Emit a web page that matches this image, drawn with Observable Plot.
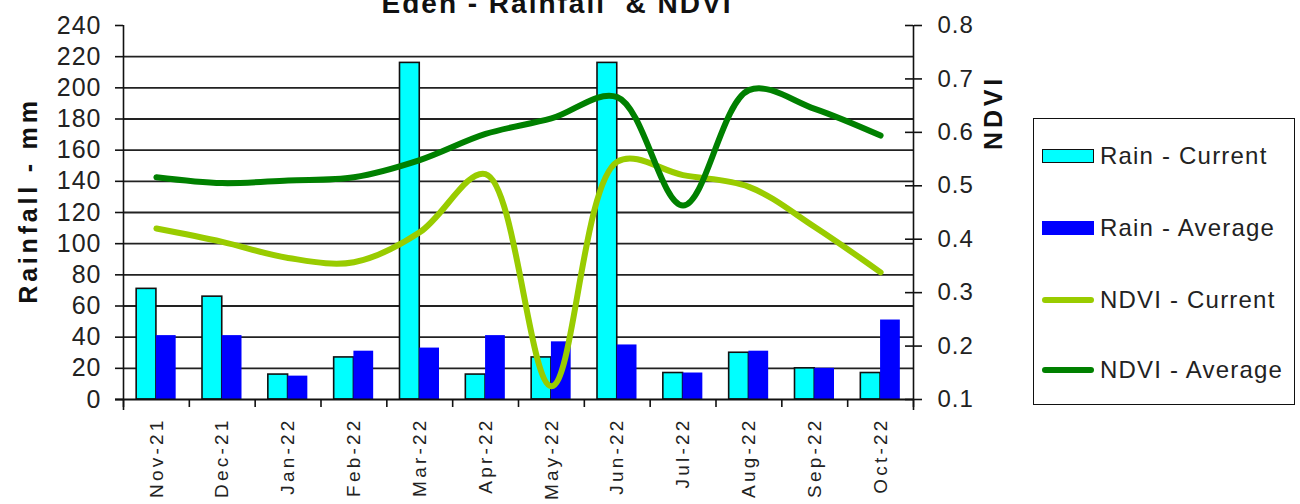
<!DOCTYPE html>
<html>
<head>
<meta charset="utf-8">
<script src="https://cdn.jsdelivr.net/npm/d3@7"></script>
<script src="https://cdn.jsdelivr.net/npm/@observablehq/plot@0.6"></script>
<style>
  body { margin: 0; background: white; font-family: "Liberation Sans", Arial, sans-serif; }
  #wrap { position: relative; width: 1300px; height: 504px; overflow: hidden; }
  #title { position: absolute; left: 0; top: -10px; width: 1114px; text-align: center;
           font-size: 28px; line-height: 28px; font-weight: bold; letter-spacing: 2px; color: #111; }
  #legend { position: absolute; left: 1033px; top: 118px; width: 260px; height: 285px;
            border: 1.5px solid #111; background: white; }
  .item { position: absolute; left: 0; height: 24px; width: 260px; }
  .item span { position: absolute; left: 66px; top: 0; font-size: 24px; line-height: 24px;
               letter-spacing: 1.2px; color: #222; white-space: nowrap; }
  .sw { position: absolute; left: 8px; }
  svg g[aria-label="y-axis tick label"] text { letter-spacing: 1px; }
  svg g[aria-label="x-axis tick label"] text { letter-spacing: 3.2px; }
  svg g[aria-label="text"] text { letter-spacing: 3.8px; }
</style>
</head>
<body>
<div id="wrap">
  <div id="title">Eden - Rainfall&nbsp; &amp; NDVI</div>
  <div id="chart"></div>
  <div id="legend"></div>
</div>
<script>
const months = ["Nov-21","Dec-21","Jan-22","Feb-22","Mar-22","Apr-22","May-22","Jun-22","Jul-22","Aug-22","Sep-22","Oct-22"];
const rainCurrent = [71, 66, 16, 27, 216, 16, 27, 216, 17, 30, 20, 17];
const rainAverage = [41, 41, 15, 31, 33, 41, 37, 35, 17, 31, 20, 51];
const ndviCurrent = [0.42, 0.395, 0.365, 0.357, 0.413, 0.522, 0.125, 0.545, 0.52, 0.498, 0.423, 0.338];
const ndviAverage = [0.516, 0.505, 0.51, 0.516, 0.548, 0.597, 0.626, 0.666, 0.463, 0.679, 0.644, 0.594];
const rainTicks = [0, 20, 40, 60, 80, 100, 120, 140, 160, 180, 200, 220, 240];
const ndviTicks = [0.1, 0.2, 0.3, 0.4, 0.5, 0.6, 0.7, 0.8];
const seriesNames = ["Rain - Current", "Rain - Average", "NDVI - Current", "NDVI - Average"];
const colors = ["#00FFFF", "#0000FF", "#99CC00", "#008000"];

// map NDVI onto the rainfall scale (0.1..0.8 -> 0..240)
const toRain = v => (v - 0.1) / 0.7 * 240;
const fromRain = r => 0.1 + r / 240 * 0.7;

const rows = months.map((m, i) => ({
  i, month: m, rc: rainCurrent[i], ra: rainAverage[i], nc: ndviCurrent[i], na: ndviAverage[i]
}));
const bounds = d3.range(months.length + 1).map(k => k - 0.5);
const last = months.length - 0.5;

const chart = Plot.plot({
  width: 1300,
  height: 504,
  marginLeft: 123,
  marginRight: 387,
  marginTop: 25,
  marginBottom: 105,
  style: { fontFamily: "'Liberation Sans', Arial, sans-serif", background: "white", color: "#222" },
  x: { type: "linear", domain: [-0.5, last], axis: null },
  y: { domain: [0, 240], axis: null },
  marks: [
    Plot.ruleY(rainTicks.filter(t => t > 0 && t < 240), { x1: -0.5, x2: last, stroke: "#222", strokeWidth: 1.8 }),
    Plot.rectY(rows, { x1: d => d.i - 0.3, x2: d => d.i, y: "rc", fill: colors[0], stroke: "#111", strokeWidth: 1.6 }),
    Plot.rectY(rows, { x1: d => d.i, x2: d => d.i + 0.3, y: "ra", fill: colors[1] }),
    Plot.line(rows, { x: "i", y: d => toRain(d.nc), curve: "catmull-rom", stroke: colors[2], strokeWidth: 6, strokeLinecap: "round", strokeLinejoin: "round" }),
    Plot.line(rows, { x: "i", y: d => toRain(d.na), curve: "catmull-rom", stroke: colors[3], strokeWidth: 6, strokeLinecap: "round", strokeLinejoin: "round" }),
    // axis lines
    Plot.ruleX([-0.5], { stroke: "#111", strokeWidth: 1.6, insetBottom: -11 }),
    Plot.ruleX([last], { stroke: "#111", strokeWidth: 1.6, insetBottom: -11 }),
    Plot.ruleY([0], { x1: -0.5, x2: last, stroke: "#111", strokeWidth: 1.8, insetLeft: -8 }),
    Plot.ruleX(bounds, { y1: 0, y2: 0, insetBottom: -8, stroke: "#111", strokeWidth: 1.6 }),
    Plot.ruleY(ndviTicks.map(toRain), { x1: last, x2: last, insetLeft: -8, stroke: "#111", strokeWidth: 1.6 }),
    Plot.axisY({ anchor: "left", ticks: rainTicks, tickSize: 8, tickPadding: 14, fontSize: 25, label: null, strokeWidth: 1.6, stroke: "#111" }),
    Plot.axisY({ anchor: "right", ticks: ndviTicks.map(toRain), tickFormat: r => fromRain(r).toFixed(1), tickSize: 8, tickPadding: 16, fontSize: 24, label: null, strokeWidth: 1.6, stroke: "#111" }),
    Plot.axisX({ ticks: d3.range(months.length), tickFormat: i => months[i], tickRotate: -90, tickSize: 0, tickPadding: 18, fontSize: 19, label: null }),
    Plot.text(["Rainfall - mm"], { frameAnchor: "left", textAnchor: "middle", lineAnchor: "middle", rotate: -90, dx: -95, dy: -12, fontSize: 25, fontWeight: "bold", fill: "#111" }),
    Plot.text(["NDVI"], { frameAnchor: "top-right", textAnchor: "middle", lineAnchor: "middle", rotate: -90, dx: 80, dy: 87, fontSize: 25, fontWeight: "bold", fill: "#111" })
  ]
});
document.getElementById("chart").appendChild(chart);

// legend
const legend = document.getElementById("legend");
const tops = [25, 97, 169, 239];
seriesNames.forEach((name, k) => {
  const item = document.createElement("div");
  item.className = "item";
  item.style.top = tops[k] + "px";
  const sw = document.createElement("div");
  sw.className = "sw";
  if (k < 2) {
    sw.style.width = "50px"; sw.style.height = "12px"; sw.style.top = "5px";
    sw.style.background = colors[k];
    sw.style.border = k === 0 ? "1.5px solid #111" : "1.5px solid " + colors[k];
  } else {
    sw.style.width = "52px"; sw.style.height = "6px"; sw.style.top = "9px";
    sw.style.background = colors[k]; sw.style.borderRadius = "3px";
  }
  const label = document.createElement("span");
  label.textContent = name;
  item.appendChild(sw);
  item.appendChild(label);
  legend.appendChild(item);
});
</script>
</body>
</html>
